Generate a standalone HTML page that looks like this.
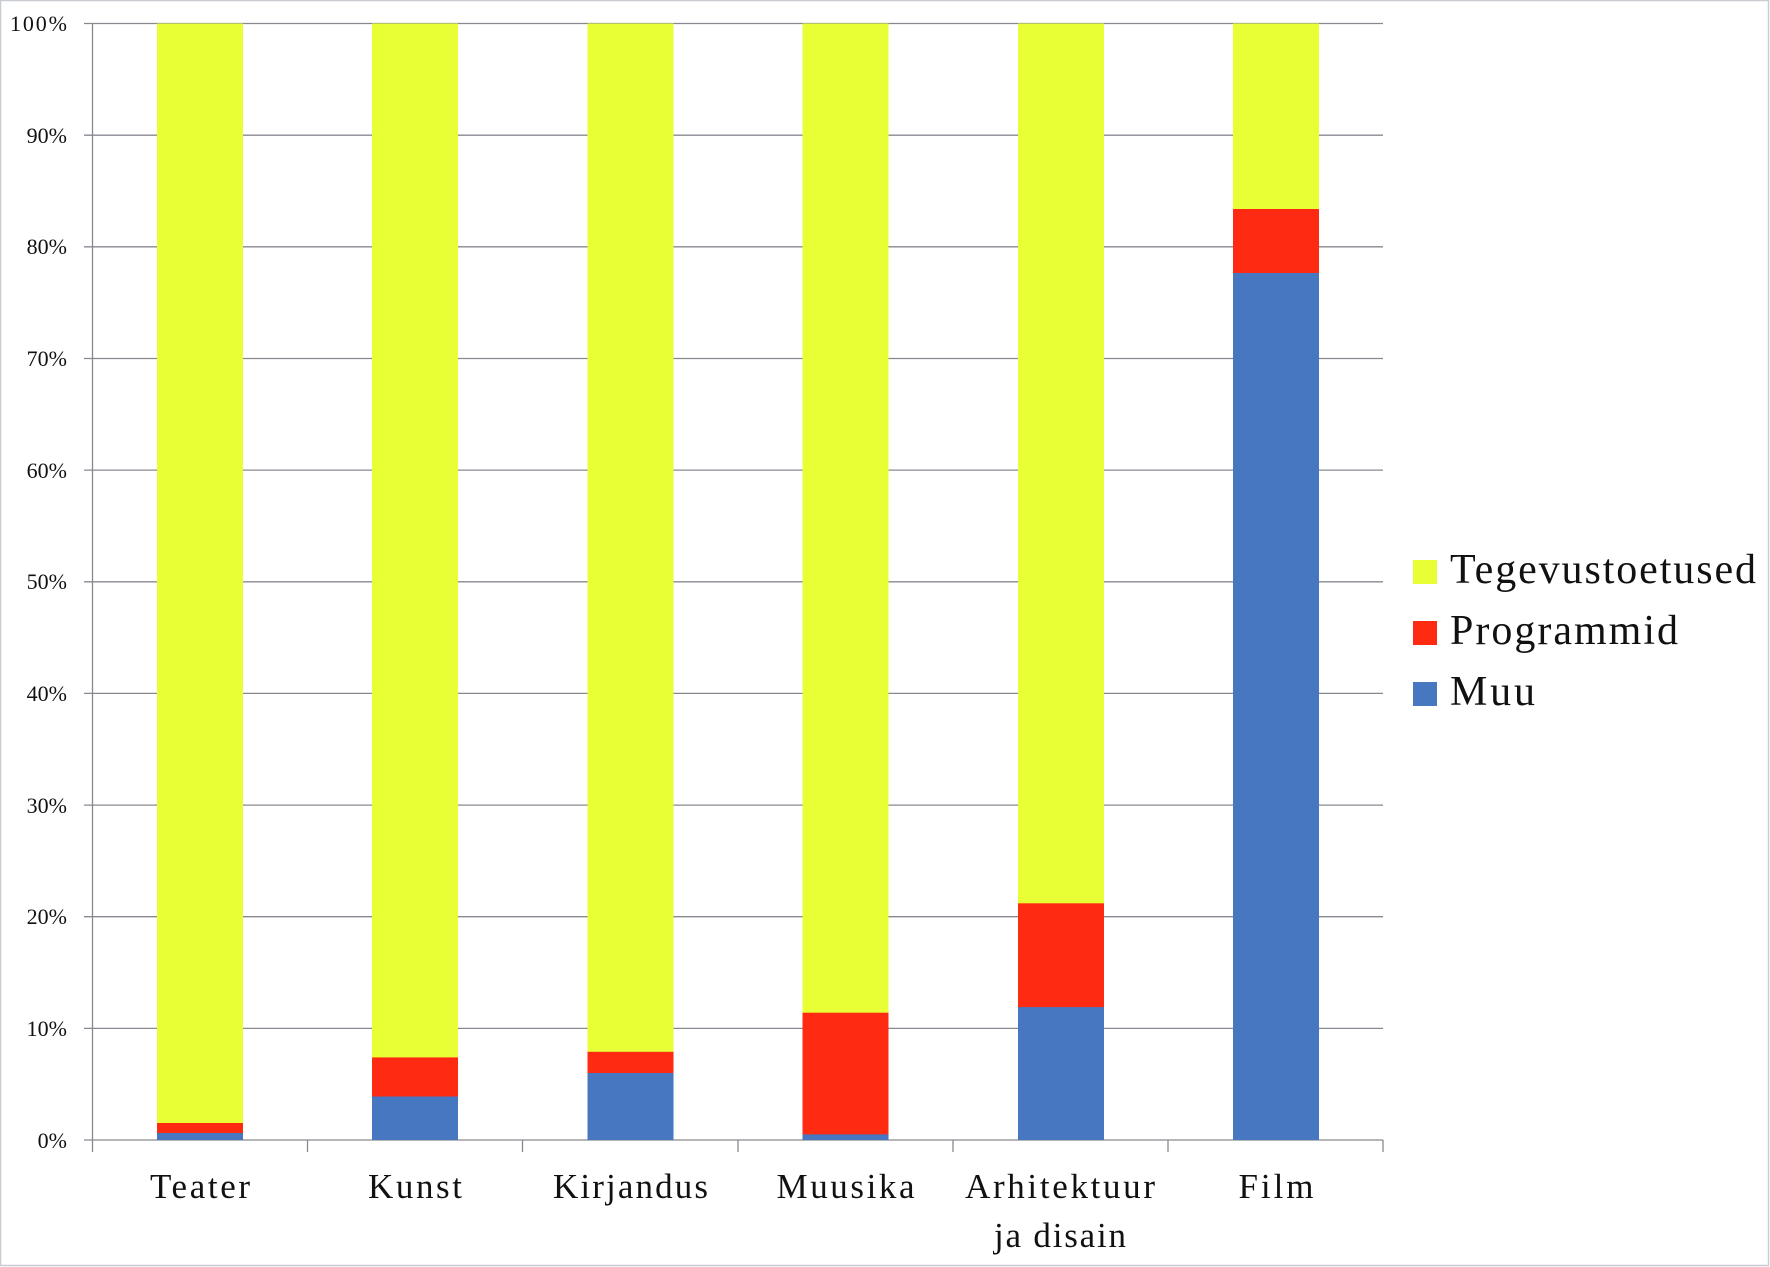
<!DOCTYPE html>
<html><head><meta charset="utf-8"><style>
html,body{margin:0;padding:0;background:#fff}
svg{display:block}
text{font-family:"Liberation Serif","DejaVu Serif",serif;fill:#111}
</style></head><body>
<svg width="1770" height="1267" viewBox="0 0 1770 1267" xmlns="http://www.w3.org/2000/svg">
<rect x="0.5" y="0.5" width="1768" height="1265" fill="#fff" stroke="#c8ccd0" stroke-width="1.5"/>
<g stroke="#868a90" stroke-width="1.3">
<line x1="84" y1="23.5" x2="1383" y2="23.5"/>
<line x1="84" y1="135.2" x2="1383" y2="135.2"/>
<line x1="84" y1="246.8" x2="1383" y2="246.8"/>
<line x1="84" y1="358.5" x2="1383" y2="358.5"/>
<line x1="84" y1="470.1" x2="1383" y2="470.1"/>
<line x1="84" y1="581.8" x2="1383" y2="581.8"/>
<line x1="84" y1="693.4" x2="1383" y2="693.4"/>
<line x1="84" y1="805.1" x2="1383" y2="805.1"/>
<line x1="84" y1="916.7" x2="1383" y2="916.7"/>
<line x1="84" y1="1028.4" x2="1383" y2="1028.4"/>
<line x1="84" y1="1140" x2="1383" y2="1140"/>
<line x1="92.5" y1="23.5" x2="92.5" y2="1152"/>
<line x1="307.5" y1="1140" x2="307.5" y2="1152"/>
<line x1="522.5" y1="1140" x2="522.5" y2="1152"/>
<line x1="738" y1="1140" x2="738" y2="1152"/>
<line x1="953" y1="1140" x2="953" y2="1152"/>
<line x1="1168" y1="1140" x2="1168" y2="1152"/>
<line x1="1383" y1="1140" x2="1383" y2="1152"/>
</g>
<g font-size="22" text-anchor="end">
<text x="67" y="31" textLength="57" lengthAdjust="spacing">100%</text>
<text x="67" y="143">90%</text>
<text x="67" y="254">80%</text>
<text x="67" y="366">70%</text>
<text x="67" y="478">60%</text>
<text x="67" y="589">50%</text>
<text x="67" y="701">40%</text>
<text x="67" y="813">30%</text>
<text x="67" y="924">20%</text>
<text x="67" y="1036">10%</text>
<text x="67" y="1148">0%</text>
</g>
<g>
<rect x="157" y="23.5" width="86" height="1116.5" fill="#e9ff35"/>
<rect x="157" y="1123" width="86" height="17" fill="#ff2a12"/>
<rect x="157" y="1133" width="86" height="7" fill="#4677c0"/>

<rect x="372" y="23.5" width="86" height="1116.5" fill="#e9ff35"/>
<rect x="372" y="1057.4" width="86" height="82.6" fill="#ff2a12"/>
<rect x="372" y="1096.5" width="86" height="43.5" fill="#4677c0"/>

<rect x="587.5" y="23.5" width="86" height="1116.5" fill="#e9ff35"/>
<rect x="587.5" y="1051.8" width="86" height="88.2" fill="#ff2a12"/>
<rect x="587.5" y="1073" width="86" height="67" fill="#4677c0"/>

<rect x="802.5" y="23.5" width="86" height="1116.5" fill="#e9ff35"/>
<rect x="802.5" y="1012.7" width="86" height="127.3" fill="#ff2a12"/>
<rect x="802.5" y="1134.4" width="86" height="5.6" fill="#4677c0"/>

<rect x="1018" y="23.5" width="86" height="1116.5" fill="#e9ff35"/>
<rect x="1018" y="903.3" width="86" height="236.7" fill="#ff2a12"/>
<rect x="1018" y="1007.1" width="86" height="132.9" fill="#4677c0"/>

<rect x="1233" y="23.5" width="86" height="1116.5" fill="#e9ff35"/>
<rect x="1233" y="209" width="86" height="931" fill="#ff2a12"/>
<rect x="1233" y="273" width="86" height="867" fill="#4677c0"/>
</g>
<g font-size="35" text-anchor="middle">
<text x="200" y="1198" textLength="100" lengthAdjust="spacing">Teater</text>
<text x="415" y="1198" textLength="94" lengthAdjust="spacing">Kunst</text>
<text x="630.5" y="1198" textLength="155" lengthAdjust="spacing">Kirjandus</text>
<text x="845.5" y="1198" textLength="138" lengthAdjust="spacing">Muusika</text>
<text x="1060" y="1198" textLength="190" lengthAdjust="spacing">Arhitektuur</text>
<text x="1060" y="1247" textLength="132" lengthAdjust="spacing">ja disain</text>
<text x="1276" y="1198" textLength="75" lengthAdjust="spacing">Film</text>
</g>
<rect x="1413" y="560" width="24" height="24" fill="#e9ff35"/>
<rect x="1413" y="621" width="24" height="24" fill="#ff2a12"/>
<rect x="1413" y="682" width="24" height="24" fill="#4677c0"/>
<g font-size="42">
<text x="1450" y="583" textLength="306" lengthAdjust="spacing">Tegevustoetused</text>
<text x="1450" y="644" textLength="228" lengthAdjust="spacing">Programmid</text>
<text x="1450" y="705" textLength="85" lengthAdjust="spacing">Muu</text>
</g>
</svg>
</body></html>
